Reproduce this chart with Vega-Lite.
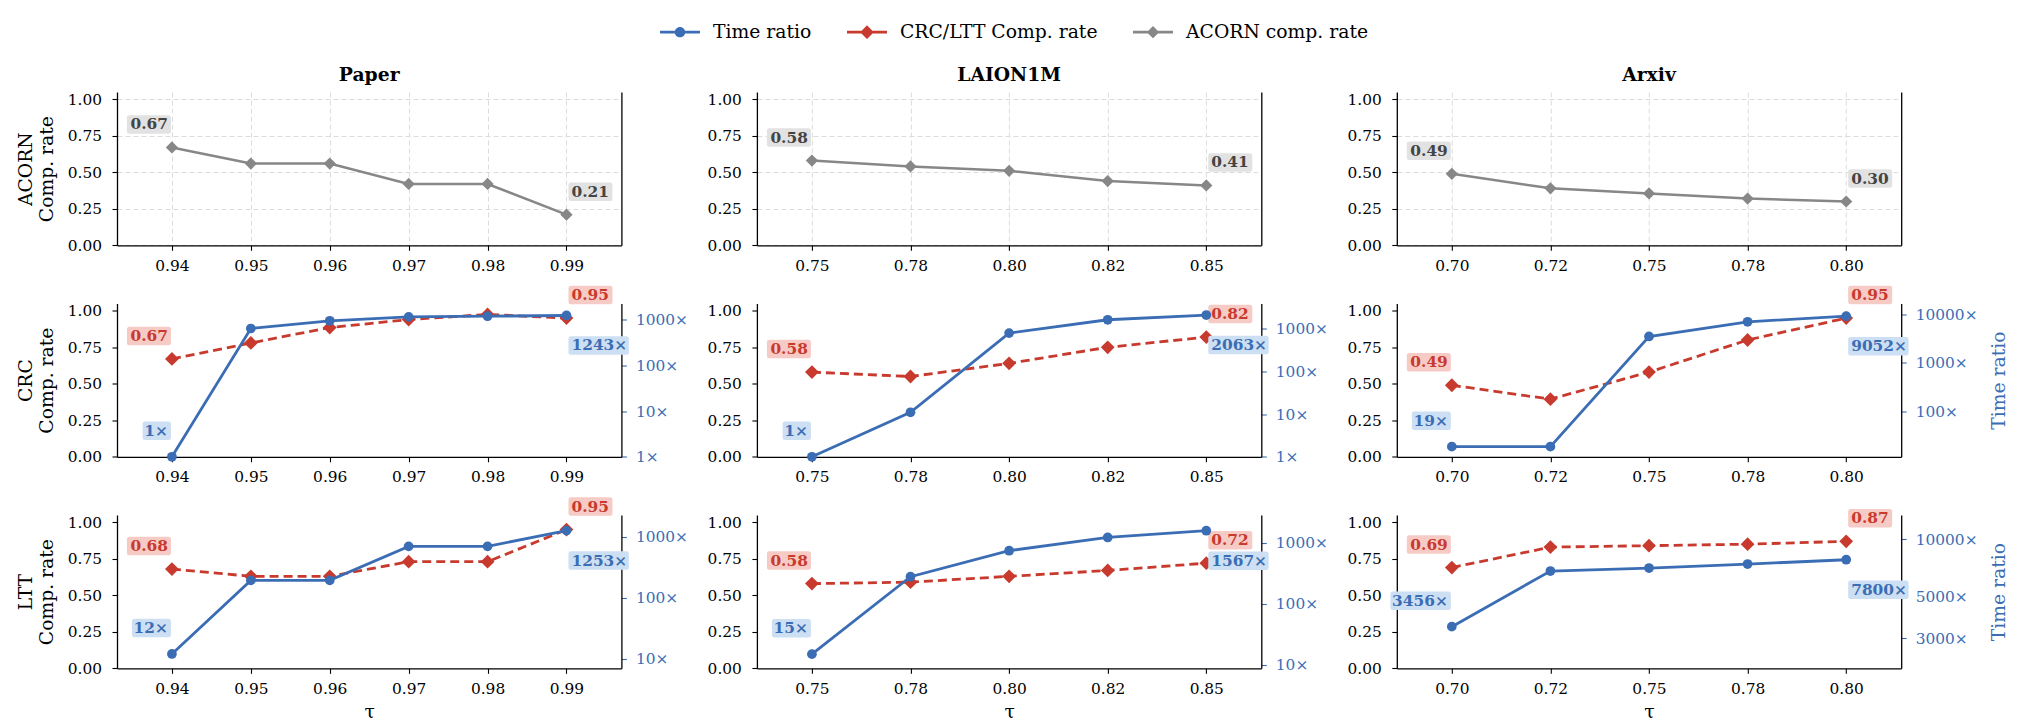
{
  "$schema": "https://vega.github.io/schema/vega-lite/v6.json",
  "background": "white",
  "padding": {"left": 16, "top": 12, "right": 10, "bottom": 6},
  "config": {
    "font": "DejaVu Serif",
    "locale": {"number": {"decimal": ".", "thousands": ",", "grouping": [3], "currency": ["", "×"]}},
    "view": {"stroke": null},
    "title": {"font": "DejaVu Serif", "fontSize": 18.75, "fontWeight": "bold", "color": "#000000", "anchor": "middle", "offset": 7, "baseline": "alphabetic"},
    "axis": {
      "labelFont": "DejaVu Serif", "labelFontSize": 15.4, "labelColor": "#000000",
      "titleFont": "DejaVu Serif", "titleFontSize": 18.75, "titleFontWeight": "normal", "titleColor": "#000000",
      "domainColor": "#000000", "domainWidth": 1.3, "tickColor": "#000000", "tickWidth": 1.1, "tickSize": 5,
      "labelPadding": 9, "titlePadding": 11, "titleLineHeight": 21,
      "labelFlush": false, "labelOverlap": false,
      "grid": false, "gridColor": "#dcdcdc", "gridDash": [5, 3], "gridWidth": 1
    },
    "axisLeft": {"labelPadding": 10.5},
    "axisBottom": {"labelPadding": 8, "titlePadding": 6},
    "text": {"font": "DejaVu Serif"}
  },
  "datasets": {
    "paper_acorn": [
      {"tau": 0.94, "rate": 0.67}, {"tau": 0.95, "rate": 0.56}, {"tau": 0.96, "rate": 0.56},
      {"tau": 0.97, "rate": 0.42}, {"tau": 0.98, "rate": 0.42}, {"tau": 0.99, "rate": 0.21}
    ],
    "laion_acorn": [
      {"tau": 0.75, "rate": 0.58}, {"tau": 0.775, "rate": 0.54}, {"tau": 0.8, "rate": 0.51},
      {"tau": 0.825, "rate": 0.44}, {"tau": 0.85, "rate": 0.41}
    ],
    "arxiv_acorn": [
      {"tau": 0.7, "rate": 0.49}, {"tau": 0.725, "rate": 0.39}, {"tau": 0.75, "rate": 0.355},
      {"tau": 0.775, "rate": 0.32}, {"tau": 0.8, "rate": 0.30}
    ],
    "paper_crc": [
      {"tau": 0.94, "rate": 0.67, "time": 1}, {"tau": 0.95, "rate": 0.78, "time": 645},
      {"tau": 0.96, "rate": 0.885, "time": 950}, {"tau": 0.97, "rate": 0.94, "time": 1160},
      {"tau": 0.98, "rate": 0.975, "time": 1200}, {"tau": 0.99, "rate": 0.95, "time": 1243}
    ],
    "laion_crc": [
      {"tau": 0.75, "rate": 0.58, "time": 1}, {"tau": 0.775, "rate": 0.55, "time": 11},
      {"tau": 0.8, "rate": 0.64, "time": 780}, {"tau": 0.825, "rate": 0.75, "time": 1600},
      {"tau": 0.85, "rate": 0.82, "time": 2063}
    ],
    "arxiv_crc": [
      {"tau": 0.7, "rate": 0.49, "time": 19}, {"tau": 0.725, "rate": 0.395, "time": 19},
      {"tau": 0.75, "rate": 0.58, "time": 3470}, {"tau": 0.775, "rate": 0.80, "time": 6950},
      {"tau": 0.8, "rate": 0.95, "time": 9052}
    ],
    "paper_ltt": [
      {"tau": 0.94, "rate": 0.68, "time": 12}, {"tau": 0.95, "rate": 0.63, "time": 192},
      {"tau": 0.96, "rate": 0.63, "time": 192}, {"tau": 0.97, "rate": 0.73, "time": 692},
      {"tau": 0.98, "rate": 0.73, "time": 692}, {"tau": 0.99, "rate": 0.95, "time": 1253}
    ],
    "laion_ltt": [
      {"tau": 0.75, "rate": 0.58, "time": 15}, {"tau": 0.775, "rate": 0.59, "time": 277},
      {"tau": 0.8, "rate": 0.63, "time": 738}, {"tau": 0.825, "rate": 0.67, "time": 1216},
      {"tau": 0.85, "rate": 0.72, "time": 1567}
    ],
    "arxiv_ltt": [
      {"tau": 0.7, "rate": 0.69, "time": 3456}, {"tau": 0.725, "rate": 0.83, "time": 6800},
      {"tau": 0.75, "rate": 0.84, "time": 7050}, {"tau": 0.775, "rate": 0.85, "time": 7400},
      {"tau": 0.8, "rate": 0.87, "time": 7800}
    ]
  },
  "bounds": "flush",
  "columns": 3,
  "spacing": {"row": 57.5, "column": 134.9},
  "concat": [
    {
      "width": 504.4, "height": 153.3,
      "title": {"text": "Paper"},
      "data": {"name": "paper_acorn"},
      "layer": [
        {
          "encoding": {
            "x": {"field": "tau", "type": "quantitative", "scale": {"domain": [0.93304, 0.99696], "nice": false, "zero": false}, "axis": {"values": [0.94, 0.95, 0.96, 0.97, 0.98, 0.99], "format": ".2f", "title": null, "grid": true}},
            "y": {"field": "rate", "type": "quantitative", "scale": {"domain": [0, 1.05], "nice": false, "zero": false}, "axis": {"values": [0, 0.25, 0.5, 0.75, 1], "format": ".2f", "grid": true, "title": ["ACORN", "Comp. rate"]}}
          },
          "layer": [
            {"mark": {"type": "line", "color": "#878787", "strokeWidth": 2.5}},
            {"mark": {"type": "point", "shape": "diamond", "filled": true, "color": "#878787", "size": 150, "opacity": 1}}
          ]
        },
        {
          "encoding": {
            "x": {"field": "tau", "type": "quantitative", "scale": {"domain": [0.93304, 0.99696], "nice": false, "zero": false}, "axis": {"values": [0.94, 0.95, 0.96, 0.97, 0.98, 0.99], "format": ".2f", "title": null, "grid": true}},
            "y": {"field": "rate", "type": "quantitative", "scale": {"domain": [0, 1.05], "nice": false, "zero": false}, "axis": {"orient": "right", "labels": false, "ticks": false, "grid": false, "title": null}}
          },
          "layer": [
            {"transform": [{"filter": {"field": "tau", "equal": 0.94}}], "mark": {"type": "point", "shape": "M-4.25,-3.225H-0.35Q-0.1,-3.225,-0.1,-2.975V-1.625Q-0.1,-1.375,-0.35,-1.375H-4.25Q-4.5,-1.375,-4.5,-1.625V-2.975Q-4.5,-3.225,-4.25,-3.225Z", "size": 400, "filled": true, "color": "#e2e2e2", "opacity": 1, "strokeWidth": 0}},
            {"transform": [{"filter": {"field": "tau", "equal": 0.94}}], "mark": {"type": "text", "align": "right", "baseline": "middle", "dx": -4, "dy": -23, "fontSize": 15.4, "fontWeight": "bold", "color": "#444444"}, "encoding": {"text": {"field": "rate", "type": "quantitative", "format": ".2f"}}},
            {"transform": [{"filter": {"field": "tau", "equal": 0.99}}], "mark": {"type": "point", "shape": "M0.45,-3.225H4.35Q4.6,-3.225,4.6,-2.975V-1.625Q4.6,-1.375,4.35,-1.375H0.45Q0.2,-1.375,0.2,-1.625V-2.975Q0.2,-3.225,0.45,-3.225Z", "size": 400, "filled": true, "color": "#e2e2e2", "opacity": 1, "strokeWidth": 0}},
            {"transform": [{"filter": {"field": "tau", "equal": 0.99}}], "mark": {"type": "text", "align": "left", "baseline": "middle", "dx": 5, "dy": -23, "fontSize": 15.4, "fontWeight": "bold", "color": "#444444"}, "encoding": {"text": {"field": "rate", "type": "quantitative", "format": ".2f"}}}
          ]
        },
        {
          "data": {"values": [{"series": "Time ratio"}, {"series": "CRC/LTT Comp. rate"}, {"series": "ACORN comp. rate"}]},
          "transform": [{"filter": "false"}],
          "mark": {"type": "point", "filled": true, "opacity": 1},
          "encoding": {
            "color": {"field": "series", "type": "nominal",
              "scale": {"domain": ["Time ratio", "CRC/LTT Comp. rate", "ACORN comp. rate"], "range": ["#3b6db4", "#c73a2d", "#878787"]},
              "legend": {"orient": "none", "legendX": 543, "legendY": -80, "direction": "horizontal", "title": null, "labelFont": "DejaVu Serif", "labelFontSize": 18.75, "labelColor": "#000000", "labelLimit": 400, "symbolSize": 1600, "symbolStrokeWidth": 0, "symbolOpacity": 1, "labelOffset": 13, "columnPadding": 35, "padding": 0}},
            "shape": {"field": "series", "type": "nominal",
              "scale": {"domain": ["Time ratio", "CRC/LTT Comp. rate", "ACORN comp. rate"], "range": [
                "M-1,-0.07H1V0.07H-1Z M0.26,0A0.26,0.26,0,1,1,-0.26,0A0.26,0.26,0,1,1,0.26,0Z",
                "M-1,-0.07H1V0.07H-1Z M0,-0.34L0.34,0L0,0.34L-0.34,0Z",
                "M-1,-0.07H1V0.07H-1Z M0,-0.31L0.31,0L0,0.31L-0.31,0Z"]},
              "legend": {"orient": "none", "legendX": 543, "legendY": -80, "direction": "horizontal", "title": null, "labelFont": "DejaVu Serif", "labelFontSize": 18.75, "labelColor": "#000000", "labelLimit": 400, "symbolSize": 1600, "symbolStrokeWidth": 0, "symbolOpacity": 1, "labelOffset": 13, "columnPadding": 35, "padding": 0}}
          }
        }
      ],
      "resolve": {"scale": {"y": "independent"}}
    },
    {
      "width": 504.4, "height": 153.3,
      "title": {"text": "LAION1M"},
      "data": {"name": "laion_acorn"},
      "layer": [
        {
          "encoding": {
            "x": {"field": "tau", "type": "quantitative", "scale": {"domain": [0.73605, 0.86395], "nice": false, "zero": false}, "axis": {"values": [0.75, 0.775, 0.8, 0.825, 0.85], "format": ".2f", "title": null, "grid": true}},
            "y": {"field": "rate", "type": "quantitative", "scale": {"domain": [0, 1.05], "nice": false, "zero": false}, "axis": {"values": [0, 0.25, 0.5, 0.75, 1], "format": ".2f", "grid": true, "title": null}}
          },
          "layer": [
            {"mark": {"type": "line", "color": "#878787", "strokeWidth": 2.5}},
            {"mark": {"type": "point", "shape": "diamond", "filled": true, "color": "#878787", "size": 150, "opacity": 1}}
          ]
        },
        {
          "encoding": {
            "x": {"field": "tau", "type": "quantitative", "scale": {"domain": [0.73605, 0.86395], "nice": false, "zero": false}, "axis": {"values": [0.75, 0.775, 0.8, 0.825, 0.85], "format": ".2f", "title": null, "grid": true}},
            "y": {"field": "rate", "type": "quantitative", "scale": {"domain": [0, 1.05], "nice": false, "zero": false}, "axis": {"orient": "right", "labels": false, "ticks": false, "grid": false, "title": null}}
          },
          "layer": [
            {"transform": [{"filter": {"field": "tau", "equal": 0.75}}], "mark": {"type": "point", "shape": "M-4.25,-3.225H-0.35Q-0.1,-3.225,-0.1,-2.975V-1.625Q-0.1,-1.375,-0.35,-1.375H-4.25Q-4.5,-1.375,-4.5,-1.625V-2.975Q-4.5,-3.225,-4.25,-3.225Z", "size": 400, "filled": true, "color": "#e2e2e2", "opacity": 1, "strokeWidth": 0}},
            {"transform": [{"filter": {"field": "tau", "equal": 0.75}}], "mark": {"type": "text", "align": "right", "baseline": "middle", "dx": -4, "dy": -23, "fontSize": 15.4, "fontWeight": "bold", "color": "#444444"}, "encoding": {"text": {"field": "rate", "type": "quantitative", "format": ".2f"}}},
            {"transform": [{"filter": {"field": "tau", "equal": 0.85}}], "mark": {"type": "point", "shape": "M0.45,-3.225H4.35Q4.6,-3.225,4.6,-2.975V-1.625Q4.6,-1.375,4.35,-1.375H0.45Q0.2,-1.375,0.2,-1.625V-2.975Q0.2,-3.225,0.45,-3.225Z", "size": 400, "filled": true, "color": "#e2e2e2", "opacity": 1, "strokeWidth": 0}},
            {"transform": [{"filter": {"field": "tau", "equal": 0.85}}], "mark": {"type": "text", "align": "left", "baseline": "middle", "dx": 5, "dy": -23, "fontSize": 15.4, "fontWeight": "bold", "color": "#444444"}, "encoding": {"text": {"field": "rate", "type": "quantitative", "format": ".2f"}}}
          ]
        }
      ],
      "resolve": {"scale": {"y": "independent"}}
    },
    {
      "width": 504.4, "height": 153.3,
      "title": {"text": "Arxiv"},
      "data": {"name": "arxiv_acorn"},
      "layer": [
        {
          "encoding": {
            "x": {"field": "tau", "type": "quantitative", "scale": {"domain": [0.68605, 0.81395], "nice": false, "zero": false}, "axis": {"values": [0.7, 0.725, 0.75, 0.775, 0.8], "format": ".2f", "title": null, "grid": true}},
            "y": {"field": "rate", "type": "quantitative", "scale": {"domain": [0, 1.05], "nice": false, "zero": false}, "axis": {"values": [0, 0.25, 0.5, 0.75, 1], "format": ".2f", "grid": true, "title": null}}
          },
          "layer": [
            {"mark": {"type": "line", "color": "#878787", "strokeWidth": 2.5}},
            {"mark": {"type": "point", "shape": "diamond", "filled": true, "color": "#878787", "size": 150, "opacity": 1}}
          ]
        },
        {
          "encoding": {
            "x": {"field": "tau", "type": "quantitative", "scale": {"domain": [0.68605, 0.81395], "nice": false, "zero": false}, "axis": {"values": [0.7, 0.725, 0.75, 0.775, 0.8], "format": ".2f", "title": null, "grid": true}},
            "y": {"field": "rate", "type": "quantitative", "scale": {"domain": [0, 1.05], "nice": false, "zero": false}, "axis": {"orient": "right", "labels": false, "ticks": false, "grid": false, "title": null}}
          },
          "layer": [
            {"transform": [{"filter": {"field": "tau", "equal": 0.7}}], "mark": {"type": "point", "shape": "M-4.25,-3.225H-0.35Q-0.1,-3.225,-0.1,-2.975V-1.625Q-0.1,-1.375,-0.35,-1.375H-4.25Q-4.5,-1.375,-4.5,-1.625V-2.975Q-4.5,-3.225,-4.25,-3.225Z", "size": 400, "filled": true, "color": "#e2e2e2", "opacity": 1, "strokeWidth": 0}},
            {"transform": [{"filter": {"field": "tau", "equal": 0.7}}], "mark": {"type": "text", "align": "right", "baseline": "middle", "dx": -4, "dy": -23, "fontSize": 15.4, "fontWeight": "bold", "color": "#444444"}, "encoding": {"text": {"field": "rate", "type": "quantitative", "format": ".2f"}}},
            {"transform": [{"filter": {"field": "tau", "equal": 0.8}}], "mark": {"type": "point", "shape": "M0.45,-3.225H4.35Q4.6,-3.225,4.6,-2.975V-1.625Q4.6,-1.375,4.35,-1.375H0.45Q0.2,-1.375,0.2,-1.625V-2.975Q0.2,-3.225,0.45,-3.225Z", "size": 400, "filled": true, "color": "#e2e2e2", "opacity": 1, "strokeWidth": 0}},
            {"transform": [{"filter": {"field": "tau", "equal": 0.8}}], "mark": {"type": "text", "align": "left", "baseline": "middle", "dx": 5, "dy": -23, "fontSize": 15.4, "fontWeight": "bold", "color": "#444444"}, "encoding": {"text": {"field": "rate", "type": "quantitative", "format": ".2f"}}}
          ]
        }
      ],
      "resolve": {"scale": {"y": "independent"}}
    },
    {
      "width": 504.4, "height": 153.3,
      "data": {"name": "paper_crc"},
      "layer": [
        {
          "encoding": {
            "x": {"field": "tau", "type": "quantitative", "scale": {"domain": [0.93304, 0.99696], "nice": false, "zero": false}, "axis": {"values": [0.94, 0.95, 0.96, 0.97, 0.98, 0.99], "format": ".2f", "title": null}},
            "y": {"field": "rate", "type": "quantitative", "scale": {"domain": [0, 1.05], "nice": false, "zero": false}, "axis": {"values": [0, 0.25, 0.5, 0.75, 1], "format": ".2f", "title": ["CRC", "Comp. rate"]}}
          },
          "layer": [
            {"mark": {"type": "line", "color": "#c73a2d", "strokeWidth": 2.8, "strokeDash": [9, 5]}},
            {"mark": {"type": "point", "shape": "diamond", "filled": true, "color": "#c73a2d", "size": 190, "opacity": 1}},
            {"transform": [{"filter": {"field": "tau", "equal": 0.94}}], "mark": {"type": "point", "shape": "M-4.25,-3.225H-0.35Q-0.1,-3.225,-0.1,-2.975V-1.625Q-0.1,-1.375,-0.35,-1.375H-4.25Q-4.5,-1.375,-4.5,-1.625V-2.975Q-4.5,-3.225,-4.25,-3.225Z", "size": 400, "filled": true, "color": "#f7cbc5", "opacity": 1, "strokeWidth": 0}},
            {"transform": [{"filter": {"field": "tau", "equal": 0.94}}], "mark": {"type": "text", "align": "right", "baseline": "middle", "dx": -4, "dy": -23, "fontSize": 15.4, "fontWeight": "bold", "color": "#c73a2d"}, "encoding": {"text": {"field": "rate", "type": "quantitative", "format": ".2f"}}},
            {"transform": [{"filter": {"field": "tau", "equal": 0.99}}], "mark": {"type": "point", "shape": "M0.45,-3.225H4.35Q4.6,-3.225,4.6,-2.975V-1.625Q4.6,-1.375,4.35,-1.375H0.45Q0.2,-1.375,0.2,-1.625V-2.975Q0.2,-3.225,0.45,-3.225Z", "size": 400, "filled": true, "color": "#f7cbc5", "opacity": 1, "strokeWidth": 0}},
            {"transform": [{"filter": {"field": "tau", "equal": 0.99}}], "mark": {"type": "text", "align": "left", "baseline": "middle", "dx": 5, "dy": -23, "fontSize": 15.4, "fontWeight": "bold", "color": "#c73a2d"}, "encoding": {"text": {"field": "rate", "type": "quantitative", "format": ".2f"}}}
          ]
        },
        {
          "encoding": {
            "x": {"field": "tau", "type": "quantitative", "scale": {"domain": [0.93304, 0.99696], "nice": false, "zero": false}, "axis": {"values": [0.94, 0.95, 0.96, 0.97, 0.98, 0.99], "format": ".2f", "title": null}},
            "y": {"field": "time", "type": "quantitative", "scale": {"type": "log", "domain": [1, 2275], "nice": false}, "axis": {"orient": "right", "values": [1, 10, 100, 1000], "format": "$d", "labelColor": "#3b6db4", "tickColor": "#3b6db4", "title": null}}
          },
          "layer": [
            {"mark": {"type": "line", "color": "#3b6db4", "strokeWidth": 2.8}},
            {"mark": {"type": "point", "shape": "circle", "filled": true, "color": "#3b6db4", "size": 95, "opacity": 1}},
            {"transform": [{"filter": {"field": "tau", "equal": 0.94}}], "mark": {"type": "point", "shape": "M-2.68,-3.525H-0.35Q-0.1,-3.525,-0.1,-3.275V-1.925Q-0.1,-1.675,-0.35,-1.675H-2.68Q-2.93,-1.675,-2.93,-1.925V-3.275Q-2.93,-3.525,-2.68,-3.525Z", "size": 400, "filled": true, "color": "#cddff3", "opacity": 1, "strokeWidth": 0}},
            {"transform": [{"filter": {"field": "tau", "equal": 0.94}}], "mark": {"type": "text", "align": "right", "baseline": "middle", "dx": -4, "dy": -26, "fontSize": 15.4, "fontWeight": "bold", "color": "#3b6db4"}, "encoding": {"text": {"field": "time", "type": "quantitative", "format": "$d"}}},
            {"transform": [{"filter": {"field": "tau", "equal": 0.99}}], "mark": {"type": "point", "shape": "M0.45,2.075H5.99Q6.24,2.075,6.24,2.325V3.675Q6.24,3.925,5.99,3.925H0.45Q0.2,3.925,0.2,3.675V2.325Q0.2,2.075,0.45,2.075Z", "size": 400, "filled": true, "color": "#cddff3", "opacity": 1, "strokeWidth": 0}},
            {"transform": [{"filter": {"field": "tau", "equal": 0.99}}], "mark": {"type": "text", "align": "left", "baseline": "middle", "dx": 5, "dy": 30, "fontSize": 15.4, "fontWeight": "bold", "color": "#3b6db4"}, "encoding": {"text": {"field": "time", "type": "quantitative", "format": "$d"}}}
          ]
        }
      ],
      "resolve": {"scale": {"y": "independent"}}
    },
    {
      "width": 504.4, "height": 153.3,
      "data": {"name": "laion_crc"},
      "layer": [
        {
          "encoding": {
            "x": {"field": "tau", "type": "quantitative", "scale": {"domain": [0.73605, 0.86395], "nice": false, "zero": false}, "axis": {"values": [0.75, 0.775, 0.8, 0.825, 0.85], "format": ".2f", "title": null}},
            "y": {"field": "rate", "type": "quantitative", "scale": {"domain": [0, 1.05], "nice": false, "zero": false}, "axis": {"values": [0, 0.25, 0.5, 0.75, 1], "format": ".2f", "title": null}}
          },
          "layer": [
            {"mark": {"type": "line", "color": "#c73a2d", "strokeWidth": 2.8, "strokeDash": [9, 5]}},
            {"mark": {"type": "point", "shape": "diamond", "filled": true, "color": "#c73a2d", "size": 190, "opacity": 1}},
            {"transform": [{"filter": {"field": "tau", "equal": 0.75}}], "mark": {"type": "point", "shape": "M-4.25,-3.225H-0.35Q-0.1,-3.225,-0.1,-2.975V-1.625Q-0.1,-1.375,-0.35,-1.375H-4.25Q-4.5,-1.375,-4.5,-1.625V-2.975Q-4.5,-3.225,-4.25,-3.225Z", "size": 400, "filled": true, "color": "#f7cbc5", "opacity": 1, "strokeWidth": 0}},
            {"transform": [{"filter": {"field": "tau", "equal": 0.75}}], "mark": {"type": "text", "align": "right", "baseline": "middle", "dx": -4, "dy": -23, "fontSize": 15.4, "fontWeight": "bold", "color": "#c73a2d"}, "encoding": {"text": {"field": "rate", "type": "quantitative", "format": ".2f"}}},
            {"transform": [{"filter": {"field": "tau", "equal": 0.85}}], "mark": {"type": "point", "shape": "M0.45,-3.225H4.35Q4.6,-3.225,4.6,-2.975V-1.625Q4.6,-1.375,4.35,-1.375H0.45Q0.2,-1.375,0.2,-1.625V-2.975Q0.2,-3.225,0.45,-3.225Z", "size": 400, "filled": true, "color": "#f7cbc5", "opacity": 1, "strokeWidth": 0}},
            {"transform": [{"filter": {"field": "tau", "equal": 0.85}}], "mark": {"type": "text", "align": "left", "baseline": "middle", "dx": 5, "dy": -23, "fontSize": 15.4, "fontWeight": "bold", "color": "#c73a2d"}, "encoding": {"text": {"field": "rate", "type": "quantitative", "format": ".2f"}}}
          ]
        },
        {
          "encoding": {
            "x": {"field": "tau", "type": "quantitative", "scale": {"domain": [0.73605, 0.86395], "nice": false, "zero": false}, "axis": {"values": [0.75, 0.775, 0.8, 0.825, 0.85], "format": ".2f", "title": null}},
            "y": {"field": "time", "type": "quantitative", "scale": {"type": "log", "domain": [1, 3840], "nice": false}, "axis": {"orient": "right", "values": [1, 10, 100, 1000], "format": "$d", "labelColor": "#3b6db4", "tickColor": "#3b6db4", "title": null}}
          },
          "layer": [
            {"mark": {"type": "line", "color": "#3b6db4", "strokeWidth": 2.8}},
            {"mark": {"type": "point", "shape": "circle", "filled": true, "color": "#3b6db4", "size": 95, "opacity": 1}},
            {"transform": [{"filter": {"field": "tau", "equal": 0.75}}], "mark": {"type": "point", "shape": "M-2.68,-3.525H-0.35Q-0.1,-3.525,-0.1,-3.275V-1.925Q-0.1,-1.675,-0.35,-1.675H-2.68Q-2.93,-1.675,-2.93,-1.925V-3.275Q-2.93,-3.525,-2.68,-3.525Z", "size": 400, "filled": true, "color": "#cddff3", "opacity": 1, "strokeWidth": 0}},
            {"transform": [{"filter": {"field": "tau", "equal": 0.75}}], "mark": {"type": "text", "align": "right", "baseline": "middle", "dx": -4, "dy": -26, "fontSize": 15.4, "fontWeight": "bold", "color": "#3b6db4"}, "encoding": {"text": {"field": "time", "type": "quantitative", "format": "$d"}}},
            {"transform": [{"filter": {"field": "tau", "equal": 0.85}}], "mark": {"type": "point", "shape": "M0.45,2.075H5.99Q6.24,2.075,6.24,2.325V3.675Q6.24,3.925,5.99,3.925H0.45Q0.2,3.925,0.2,3.675V2.325Q0.2,2.075,0.45,2.075Z", "size": 400, "filled": true, "color": "#cddff3", "opacity": 1, "strokeWidth": 0}},
            {"transform": [{"filter": {"field": "tau", "equal": 0.85}}], "mark": {"type": "text", "align": "left", "baseline": "middle", "dx": 5, "dy": 30, "fontSize": 15.4, "fontWeight": "bold", "color": "#3b6db4"}, "encoding": {"text": {"field": "time", "type": "quantitative", "format": "$d"}}}
          ]
        }
      ],
      "resolve": {"scale": {"y": "independent"}}
    },
    {
      "width": 504.4, "height": 153.3,
      "data": {"name": "arxiv_crc"},
      "layer": [
        {
          "encoding": {
            "x": {"field": "tau", "type": "quantitative", "scale": {"domain": [0.68605, 0.81395], "nice": false, "zero": false}, "axis": {"values": [0.7, 0.725, 0.75, 0.775, 0.8], "format": ".2f", "title": null}},
            "y": {"field": "rate", "type": "quantitative", "scale": {"domain": [0, 1.05], "nice": false, "zero": false}, "axis": {"values": [0, 0.25, 0.5, 0.75, 1], "format": ".2f", "title": null}}
          },
          "layer": [
            {"mark": {"type": "line", "color": "#c73a2d", "strokeWidth": 2.8, "strokeDash": [9, 5]}},
            {"mark": {"type": "point", "shape": "diamond", "filled": true, "color": "#c73a2d", "size": 190, "opacity": 1}},
            {"transform": [{"filter": {"field": "tau", "equal": 0.7}}], "mark": {"type": "point", "shape": "M-4.25,-3.225H-0.35Q-0.1,-3.225,-0.1,-2.975V-1.625Q-0.1,-1.375,-0.35,-1.375H-4.25Q-4.5,-1.375,-4.5,-1.625V-2.975Q-4.5,-3.225,-4.25,-3.225Z", "size": 400, "filled": true, "color": "#f7cbc5", "opacity": 1, "strokeWidth": 0}},
            {"transform": [{"filter": {"field": "tau", "equal": 0.7}}], "mark": {"type": "text", "align": "right", "baseline": "middle", "dx": -4, "dy": -23, "fontSize": 15.4, "fontWeight": "bold", "color": "#c73a2d"}, "encoding": {"text": {"field": "rate", "type": "quantitative", "format": ".2f"}}},
            {"transform": [{"filter": {"field": "tau", "equal": 0.8}}], "mark": {"type": "point", "shape": "M0.45,-3.225H4.35Q4.6,-3.225,4.6,-2.975V-1.625Q4.6,-1.375,4.35,-1.375H0.45Q0.2,-1.375,0.2,-1.625V-2.975Q0.2,-3.225,0.45,-3.225Z", "size": 400, "filled": true, "color": "#f7cbc5", "opacity": 1, "strokeWidth": 0}},
            {"transform": [{"filter": {"field": "tau", "equal": 0.8}}], "mark": {"type": "text", "align": "left", "baseline": "middle", "dx": 5, "dy": -23, "fontSize": 15.4, "fontWeight": "bold", "color": "#c73a2d"}, "encoding": {"text": {"field": "rate", "type": "quantitative", "format": ".2f"}}}
          ]
        },
        {
          "encoding": {
            "x": {"field": "tau", "type": "quantitative", "scale": {"domain": [0.68605, 0.81395], "nice": false, "zero": false}, "axis": {"values": [0.7, 0.725, 0.75, 0.775, 0.8], "format": ".2f", "title": null}},
            "y": {"field": "time", "type": "quantitative", "scale": {"type": "log", "domain": [11.75, 16510], "nice": false}, "axis": {"orient": "right", "values": [100, 1000, 10000], "format": "$d", "labelColor": "#3b6db4", "tickColor": "#3b6db4", "title": "Time ratio", "titleColor": "#3b6db4", "titleAngle": 270, "titleBaseline": "top", "titlePadding": 12}}
          },
          "layer": [
            {"mark": {"type": "line", "color": "#3b6db4", "strokeWidth": 2.8}},
            {"mark": {"type": "point", "shape": "circle", "filled": true, "color": "#3b6db4", "size": 95, "opacity": 1}},
            {"transform": [{"filter": {"field": "tau", "equal": 0.7}}], "mark": {"type": "point", "shape": "M-3.75,-3.525H-0.35Q-0.1,-3.525,-0.1,-3.275V-1.925Q-0.1,-1.675,-0.35,-1.675H-3.75Q-4,-1.675,-4,-1.925V-3.275Q-4,-3.525,-3.75,-3.525Z", "size": 400, "filled": true, "color": "#cddff3", "opacity": 1, "strokeWidth": 0}},
            {"transform": [{"filter": {"field": "tau", "equal": 0.7}}], "mark": {"type": "text", "align": "right", "baseline": "middle", "dx": -4, "dy": -26, "fontSize": 15.4, "fontWeight": "bold", "color": "#3b6db4"}, "encoding": {"text": {"field": "time", "type": "quantitative", "format": "$d"}}},
            {"transform": [{"filter": {"field": "tau", "equal": 0.8}}], "mark": {"type": "point", "shape": "M0.45,2.075H5.99Q6.24,2.075,6.24,2.325V3.675Q6.24,3.925,5.99,3.925H0.45Q0.2,3.925,0.2,3.675V2.325Q0.2,2.075,0.45,2.075Z", "size": 400, "filled": true, "color": "#cddff3", "opacity": 1, "strokeWidth": 0}},
            {"transform": [{"filter": {"field": "tau", "equal": 0.8}}], "mark": {"type": "text", "align": "left", "baseline": "middle", "dx": 5, "dy": 30, "fontSize": 15.4, "fontWeight": "bold", "color": "#3b6db4"}, "encoding": {"text": {"field": "time", "type": "quantitative", "format": "$d"}}}
          ]
        }
      ],
      "resolve": {"scale": {"y": "independent"}}
    },
    {
      "width": 504.4, "height": 153.3,
      "data": {"name": "paper_ltt"},
      "layer": [
        {
          "encoding": {
            "x": {"field": "tau", "type": "quantitative", "scale": {"domain": [0.93304, 0.99696], "nice": false, "zero": false}, "axis": {"values": [0.94, 0.95, 0.96, 0.97, 0.98, 0.99], "format": ".2f", "title": "τ"}},
            "y": {"field": "rate", "type": "quantitative", "scale": {"domain": [0, 1.05], "nice": false, "zero": false}, "axis": {"values": [0, 0.25, 0.5, 0.75, 1], "format": ".2f", "title": ["LTT", "Comp. rate"]}}
          },
          "layer": [
            {"mark": {"type": "line", "color": "#c73a2d", "strokeWidth": 2.8, "strokeDash": [9, 5]}},
            {"mark": {"type": "point", "shape": "diamond", "filled": true, "color": "#c73a2d", "size": 190, "opacity": 1}},
            {"transform": [{"filter": {"field": "tau", "equal": 0.94}}], "mark": {"type": "point", "shape": "M-4.25,-3.225H-0.35Q-0.1,-3.225,-0.1,-2.975V-1.625Q-0.1,-1.375,-0.35,-1.375H-4.25Q-4.5,-1.375,-4.5,-1.625V-2.975Q-4.5,-3.225,-4.25,-3.225Z", "size": 400, "filled": true, "color": "#f7cbc5", "opacity": 1, "strokeWidth": 0}},
            {"transform": [{"filter": {"field": "tau", "equal": 0.94}}], "mark": {"type": "text", "align": "right", "baseline": "middle", "dx": -4, "dy": -23, "fontSize": 15.4, "fontWeight": "bold", "color": "#c73a2d"}, "encoding": {"text": {"field": "rate", "type": "quantitative", "format": ".2f"}}},
            {"transform": [{"filter": {"field": "tau", "equal": 0.99}}], "mark": {"type": "point", "shape": "M0.45,-3.225H4.35Q4.6,-3.225,4.6,-2.975V-1.625Q4.6,-1.375,4.35,-1.375H0.45Q0.2,-1.375,0.2,-1.625V-2.975Q0.2,-3.225,0.45,-3.225Z", "size": 400, "filled": true, "color": "#f7cbc5", "opacity": 1, "strokeWidth": 0}},
            {"transform": [{"filter": {"field": "tau", "equal": 0.99}}], "mark": {"type": "text", "align": "left", "baseline": "middle", "dx": 5, "dy": -23, "fontSize": 15.4, "fontWeight": "bold", "color": "#c73a2d"}, "encoding": {"text": {"field": "rate", "type": "quantitative", "format": ".2f"}}}
          ]
        },
        {
          "encoding": {
            "x": {"field": "tau", "type": "quantitative", "scale": {"domain": [0.93304, 0.99696], "nice": false, "zero": false}, "axis": {"values": [0.94, 0.95, 0.96, 0.97, 0.98, 0.99], "format": ".2f", "title": "τ"}},
            "y": {"field": "time", "type": "quantitative", "scale": {"type": "log", "domain": [7, 2255], "nice": false}, "axis": {"orient": "right", "values": [10, 100, 1000], "format": "$d", "labelColor": "#3b6db4", "tickColor": "#3b6db4", "title": null}}
          },
          "layer": [
            {"mark": {"type": "line", "color": "#3b6db4", "strokeWidth": 2.8}},
            {"mark": {"type": "point", "shape": "circle", "filled": true, "color": "#3b6db4", "size": 95, "opacity": 1}},
            {"transform": [{"filter": {"field": "tau", "equal": 0.94}}], "mark": {"type": "point", "shape": "M-3.75,-3.525H-0.35Q-0.1,-3.525,-0.1,-3.275V-1.925Q-0.1,-1.675,-0.35,-1.675H-3.75Q-4,-1.675,-4,-1.925V-3.275Q-4,-3.525,-3.75,-3.525Z", "size": 400, "filled": true, "color": "#cddff3", "opacity": 1, "strokeWidth": 0}},
            {"transform": [{"filter": {"field": "tau", "equal": 0.94}}], "mark": {"type": "text", "align": "right", "baseline": "middle", "dx": -4, "dy": -26, "fontSize": 15.4, "fontWeight": "bold", "color": "#3b6db4"}, "encoding": {"text": {"field": "time", "type": "quantitative", "format": "$d"}}},
            {"transform": [{"filter": {"field": "tau", "equal": 0.99}}], "mark": {"type": "point", "shape": "M0.45,2.075H5.99Q6.24,2.075,6.24,2.325V3.675Q6.24,3.925,5.99,3.925H0.45Q0.2,3.925,0.2,3.675V2.325Q0.2,2.075,0.45,2.075Z", "size": 400, "filled": true, "color": "#cddff3", "opacity": 1, "strokeWidth": 0}},
            {"transform": [{"filter": {"field": "tau", "equal": 0.99}}], "mark": {"type": "text", "align": "left", "baseline": "middle", "dx": 5, "dy": 30, "fontSize": 15.4, "fontWeight": "bold", "color": "#3b6db4"}, "encoding": {"text": {"field": "time", "type": "quantitative", "format": "$d"}}}
          ]
        }
      ],
      "resolve": {"scale": {"y": "independent"}}
    },
    {
      "width": 504.4, "height": 153.3,
      "data": {"name": "laion_ltt"},
      "layer": [
        {
          "encoding": {
            "x": {"field": "tau", "type": "quantitative", "scale": {"domain": [0.73605, 0.86395], "nice": false, "zero": false}, "axis": {"values": [0.75, 0.775, 0.8, 0.825, 0.85], "format": ".2f", "title": "τ"}},
            "y": {"field": "rate", "type": "quantitative", "scale": {"domain": [0, 1.05], "nice": false, "zero": false}, "axis": {"values": [0, 0.25, 0.5, 0.75, 1], "format": ".2f", "title": null}}
          },
          "layer": [
            {"mark": {"type": "line", "color": "#c73a2d", "strokeWidth": 2.8, "strokeDash": [9, 5]}},
            {"mark": {"type": "point", "shape": "diamond", "filled": true, "color": "#c73a2d", "size": 190, "opacity": 1}},
            {"transform": [{"filter": {"field": "tau", "equal": 0.75}}], "mark": {"type": "point", "shape": "M-4.25,-3.225H-0.35Q-0.1,-3.225,-0.1,-2.975V-1.625Q-0.1,-1.375,-0.35,-1.375H-4.25Q-4.5,-1.375,-4.5,-1.625V-2.975Q-4.5,-3.225,-4.25,-3.225Z", "size": 400, "filled": true, "color": "#f7cbc5", "opacity": 1, "strokeWidth": 0}},
            {"transform": [{"filter": {"field": "tau", "equal": 0.75}}], "mark": {"type": "text", "align": "right", "baseline": "middle", "dx": -4, "dy": -23, "fontSize": 15.4, "fontWeight": "bold", "color": "#c73a2d"}, "encoding": {"text": {"field": "rate", "type": "quantitative", "format": ".2f"}}},
            {"transform": [{"filter": {"field": "tau", "equal": 0.85}}], "mark": {"type": "point", "shape": "M0.45,-3.225H4.35Q4.6,-3.225,4.6,-2.975V-1.625Q4.6,-1.375,4.35,-1.375H0.45Q0.2,-1.375,0.2,-1.625V-2.975Q0.2,-3.225,0.45,-3.225Z", "size": 400, "filled": true, "color": "#f7cbc5", "opacity": 1, "strokeWidth": 0}},
            {"transform": [{"filter": {"field": "tau", "equal": 0.85}}], "mark": {"type": "text", "align": "left", "baseline": "middle", "dx": 5, "dy": -23, "fontSize": 15.4, "fontWeight": "bold", "color": "#c73a2d"}, "encoding": {"text": {"field": "rate", "type": "quantitative", "format": ".2f"}}}
          ]
        },
        {
          "encoding": {
            "x": {"field": "tau", "type": "quantitative", "scale": {"domain": [0.73605, 0.86395], "nice": false, "zero": false}, "axis": {"values": [0.75, 0.775, 0.8, 0.825, 0.85], "format": ".2f", "title": "τ"}},
            "y": {"field": "time", "type": "quantitative", "scale": {"type": "log", "domain": [8.8, 2830], "nice": false}, "axis": {"orient": "right", "values": [10, 100, 1000], "format": "$d", "labelColor": "#3b6db4", "tickColor": "#3b6db4", "title": null}}
          },
          "layer": [
            {"mark": {"type": "line", "color": "#3b6db4", "strokeWidth": 2.8}},
            {"mark": {"type": "point", "shape": "circle", "filled": true, "color": "#3b6db4", "size": 95, "opacity": 1}},
            {"transform": [{"filter": {"field": "tau", "equal": 0.75}}], "mark": {"type": "point", "shape": "M-3.75,-3.525H-0.35Q-0.1,-3.525,-0.1,-3.275V-1.925Q-0.1,-1.675,-0.35,-1.675H-3.75Q-4,-1.675,-4,-1.925V-3.275Q-4,-3.525,-3.75,-3.525Z", "size": 400, "filled": true, "color": "#cddff3", "opacity": 1, "strokeWidth": 0}},
            {"transform": [{"filter": {"field": "tau", "equal": 0.75}}], "mark": {"type": "text", "align": "right", "baseline": "middle", "dx": -4, "dy": -26, "fontSize": 15.4, "fontWeight": "bold", "color": "#3b6db4"}, "encoding": {"text": {"field": "time", "type": "quantitative", "format": "$d"}}},
            {"transform": [{"filter": {"field": "tau", "equal": 0.85}}], "mark": {"type": "point", "shape": "M0.45,2.075H5.99Q6.24,2.075,6.24,2.325V3.675Q6.24,3.925,5.99,3.925H0.45Q0.2,3.925,0.2,3.675V2.325Q0.2,2.075,0.45,2.075Z", "size": 400, "filled": true, "color": "#cddff3", "opacity": 1, "strokeWidth": 0}},
            {"transform": [{"filter": {"field": "tau", "equal": 0.85}}], "mark": {"type": "text", "align": "left", "baseline": "middle", "dx": 5, "dy": 30, "fontSize": 15.4, "fontWeight": "bold", "color": "#3b6db4"}, "encoding": {"text": {"field": "time", "type": "quantitative", "format": "$d"}}}
          ]
        }
      ],
      "resolve": {"scale": {"y": "independent"}}
    },
    {
      "width": 504.4, "height": 153.3,
      "data": {"name": "arxiv_ltt"},
      "layer": [
        {
          "encoding": {
            "x": {"field": "tau", "type": "quantitative", "scale": {"domain": [0.68605, 0.81395], "nice": false, "zero": false}, "axis": {"values": [0.7, 0.725, 0.75, 0.775, 0.8], "format": ".2f", "title": "τ"}},
            "y": {"field": "rate", "type": "quantitative", "scale": {"domain": [0, 1.05], "nice": false, "zero": false}, "axis": {"values": [0, 0.25, 0.5, 0.75, 1], "format": ".2f", "title": null}}
          },
          "layer": [
            {"mark": {"type": "line", "color": "#c73a2d", "strokeWidth": 2.8, "strokeDash": [9, 5]}},
            {"mark": {"type": "point", "shape": "diamond", "filled": true, "color": "#c73a2d", "size": 190, "opacity": 1}},
            {"transform": [{"filter": {"field": "tau", "equal": 0.7}}], "mark": {"type": "point", "shape": "M-4.25,-3.225H-0.35Q-0.1,-3.225,-0.1,-2.975V-1.625Q-0.1,-1.375,-0.35,-1.375H-4.25Q-4.5,-1.375,-4.5,-1.625V-2.975Q-4.5,-3.225,-4.25,-3.225Z", "size": 400, "filled": true, "color": "#f7cbc5", "opacity": 1, "strokeWidth": 0}},
            {"transform": [{"filter": {"field": "tau", "equal": 0.7}}], "mark": {"type": "text", "align": "right", "baseline": "middle", "dx": -4, "dy": -23, "fontSize": 15.4, "fontWeight": "bold", "color": "#c73a2d"}, "encoding": {"text": {"field": "rate", "type": "quantitative", "format": ".2f"}}},
            {"transform": [{"filter": {"field": "tau", "equal": 0.8}}], "mark": {"type": "point", "shape": "M0.45,-3.225H4.35Q4.6,-3.225,4.6,-2.975V-1.625Q4.6,-1.375,4.35,-1.375H0.45Q0.2,-1.375,0.2,-1.625V-2.975Q0.2,-3.225,0.45,-3.225Z", "size": 400, "filled": true, "color": "#f7cbc5", "opacity": 1, "strokeWidth": 0}},
            {"transform": [{"filter": {"field": "tau", "equal": 0.8}}], "mark": {"type": "text", "align": "left", "baseline": "middle", "dx": 5, "dy": -23, "fontSize": 15.4, "fontWeight": "bold", "color": "#c73a2d"}, "encoding": {"text": {"field": "rate", "type": "quantitative", "format": ".2f"}}}
          ]
        },
        {
          "encoding": {
            "x": {"field": "tau", "type": "quantitative", "scale": {"domain": [0.68605, 0.81395], "nice": false, "zero": false}, "axis": {"values": [0.7, 0.725, 0.75, 0.775, 0.8], "format": ".2f", "title": "τ"}},
            "y": {"field": "time", "type": "quantitative", "scale": {"type": "log", "domain": [2083, 13440], "nice": false}, "axis": {"orient": "right", "values": [3000, 5000, 10000], "format": "$d", "labelColor": "#3b6db4", "tickColor": "#3b6db4", "title": "Time ratio", "titleColor": "#3b6db4", "titleAngle": 270, "titleBaseline": "top", "titlePadding": 12}}
          },
          "layer": [
            {"mark": {"type": "line", "color": "#3b6db4", "strokeWidth": 2.8}},
            {"mark": {"type": "point", "shape": "circle", "filled": true, "color": "#3b6db4", "size": 95, "opacity": 1}},
            {"transform": [{"filter": {"field": "tau", "equal": 0.7}}], "mark": {"type": "point", "shape": "M-5.89,-3.525H-0.35Q-0.1,-3.525,-0.1,-3.275V-1.925Q-0.1,-1.675,-0.35,-1.675H-5.89Q-6.14,-1.675,-6.14,-1.925V-3.275Q-6.14,-3.525,-5.89,-3.525Z", "size": 400, "filled": true, "color": "#cddff3", "opacity": 1, "strokeWidth": 0}},
            {"transform": [{"filter": {"field": "tau", "equal": 0.7}}], "mark": {"type": "text", "align": "right", "baseline": "middle", "dx": -4, "dy": -26, "fontSize": 15.4, "fontWeight": "bold", "color": "#3b6db4"}, "encoding": {"text": {"field": "time", "type": "quantitative", "format": "$d"}}},
            {"transform": [{"filter": {"field": "tau", "equal": 0.8}}], "mark": {"type": "point", "shape": "M0.45,2.075H5.99Q6.24,2.075,6.24,2.325V3.675Q6.24,3.925,5.99,3.925H0.45Q0.2,3.925,0.2,3.675V2.325Q0.2,2.075,0.45,2.075Z", "size": 400, "filled": true, "color": "#cddff3", "opacity": 1, "strokeWidth": 0}},
            {"transform": [{"filter": {"field": "tau", "equal": 0.8}}], "mark": {"type": "text", "align": "left", "baseline": "middle", "dx": 5, "dy": 30, "fontSize": 15.4, "fontWeight": "bold", "color": "#3b6db4"}, "encoding": {"text": {"field": "time", "type": "quantitative", "format": "$d"}}}
          ]
        }
      ],
      "resolve": {"scale": {"y": "independent"}}
    }
  ]
}
